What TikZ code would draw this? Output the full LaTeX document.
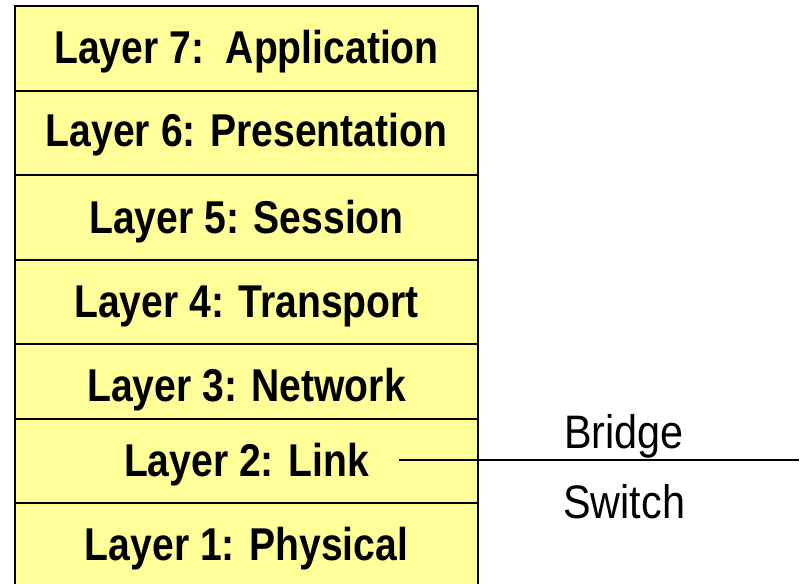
\documentclass[tikz,border=0pt]{standalone}
\usepackage{fontspec}
\setmainfont{Liberation Sans}[FakeStretch=0.85]
\newfontfamily\devfont{Liberation Sans}[FakeStretch=0.88]
\definecolor{layerfill}{HTML}{FFFF99}
\begin{document}
\begin{tikzpicture}[x=1pt,y=-1pt,
  layertext/.style={anchor=base,inner sep=0pt,font=\fontsize{46}{46}\selectfont\bfseries},
  devtext/.style={anchor=base west,inner sep=0pt,font=\devfont\fontsize{47}{47}\selectfont},
  frame/.style={draw=black,line width=2pt},
  divider/.style={draw=black,line width=1.3pt},
  link/.style={draw=black,line width=1.4pt}]
\useasboundingbox (0,0) rectangle (804,584);

% stack background and outer frame (open at the bottom)
\fill[layerfill] (15,6) rectangle (478,590);
\draw[frame] (15,590) -- (15,6) -- (478,6) -- (478,590);

% row dividers
\foreach \yy in {91,175,260,344,419,503}
  \draw[divider] (15,\yy) -- (478,\yy);

% layer labels
\node[layertext] (l7) at (246.5,63)  {Layer 7:\ \ Application};
\node[layertext] (l6) at (246.5,146) {Layer 6: Presentation};
\node[layertext] (l5) at (246.5,233) {Layer 5: Session};
\node[layertext] (l4) at (246.5,317) {Layer 4: Transport};
\node[layertext] (l3) at (246.5,401) {Layer 3: Network};
\node[layertext] (l2) at (246.5,476) {Layer 2: Link};
\node[layertext] (l1) at (246.5,560) {Layer 1: Physical};

% link-layer devices
\coordinate (tap) at (399,460);
\coordinate (end) at (799,460);
\draw[link] (tap) -- (end);
\node[devtext] (bridge) at (564,448) {Bridge};
\node[devtext] (switch) at (563,518) {Switch};
\end{tikzpicture}
\end{document}
